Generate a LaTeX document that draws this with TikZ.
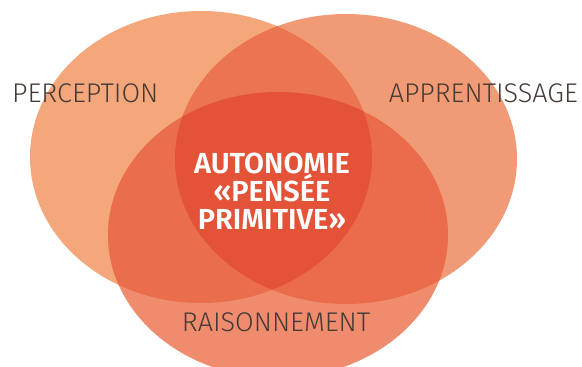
\documentclass[tikz,border=0pt]{standalone}
\usepackage{fontspec}
\setmainfont{Fira Sans}[UprightFont={* Light}, BoldFont={* SemiBold}]
\definecolor{cL}{HTML}{F3A77A}
\definecolor{cR}{HTML}{F19B76}
\definecolor{cB}{HTML}{EF8C6E}
\definecolor{cLR}{HTML}{EB7550}
\definecolor{cLB}{HTML}{EA6E4C}
\definecolor{cRB}{HTML}{EA6C4A}
\definecolor{cC}{HTML}{E45338}
\definecolor{lbl}{HTML}{463A36}
\tikzset{
  lab/.style={text=lbl, font=\fontsize{27}{30}\selectfont, inner sep=0pt},
  centre/.style={text=white, font=\bfseries\fontsize{29}{28}\selectfont, align=center, inner sep=0pt}
}
\begin{document}
\begin{tikzpicture}[x=1pt,y=-1pt]
\useasboundingbox (0,0) rectangle (582,367);
\clip (0,0) rectangle (582,367);
\def\ellL{(201,157) ellipse [x radius=171, y radius=146]}
\def\ellR{(346,159) ellipse [x radius=171, y radius=145]}
\def\ellB{(278,235) ellipse [x radius=170, y radius=143]}
\fill[cL] \ellL;
\fill[cR] \ellR;
\fill[cB] \ellB;
\begin{scope}\clip \ellL; \fill[cLR] \ellR; \end{scope}
\begin{scope}\clip \ellL; \fill[cLB] \ellB; \end{scope}
\begin{scope}\clip \ellR; \fill[cRB] \ellB; \end{scope}
\begin{scope}\clip \ellL; \clip \ellR; \fill[cC] \ellB; \end{scope}
\node[lab, anchor=west] (perc) at (12,93) {PERCEPTION};
\node[lab, anchor=east] (appr) at (578,93) {APPRENTISSAGE};
\node[lab] (rais) at (276,322) {RAISONNEMENT};
\node[centre] (auto) at (272,191) {AUTONOMIE\\«PENSÉE\\PRIMITIVE»};
\end{tikzpicture}
\end{document}
